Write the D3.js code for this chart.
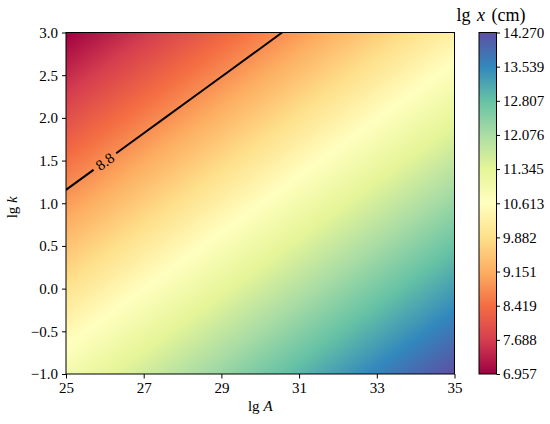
<!DOCTYPE html>
<html>
<head>
<meta charset="utf-8">
<script src="https://cdn.jsdelivr.net/npm/d3@7"></script>
<style>
  body { margin: 0; background: #fff; }
</style>
</head>
<body>
<svg id="chart" width="550" height="424"></svg>
<script>
// grid of lg x, columns = lgA, rows = lgk
var lgA = [25, 26, 27, 28, 29, 30, 31, 32, 33, 34, 35];
var lgk = [3.0, 2.5, 2.0, 1.5, 1.0, 0.5, 0.0, -0.5, -1.0];
var lgx = [
    [6.957, 7.288, 7.620, 7.951, 8.282, 8.613, 8.945, 9.276, 9.607, 9.938, 10.270],
    [7.457, 7.788, 8.120, 8.451, 8.782, 9.113, 9.445, 9.776, 10.107, 10.438, 10.770],
    [7.957, 8.288, 8.620, 8.951, 9.282, 9.613, 9.945, 10.276, 10.607, 10.938, 11.270],
    [8.457, 8.788, 9.120, 9.451, 9.782, 10.113, 10.445, 10.776, 11.107, 11.438, 11.770],
    [8.957, 9.288, 9.620, 9.951, 10.282, 10.613, 10.945, 11.276, 11.607, 11.938, 12.270],
    [9.457, 9.788, 10.120, 10.451, 10.782, 11.113, 11.445, 11.776, 12.107, 12.438, 12.770],
    [9.957, 10.288, 10.620, 10.951, 11.282, 11.613, 11.945, 12.276, 12.607, 12.938, 13.270],
    [10.457, 10.788, 11.120, 11.451, 11.782, 12.113, 12.445, 12.776, 13.107, 13.438, 13.770],
    [10.957, 11.288, 11.620, 11.951, 12.282, 12.613, 12.945, 13.276, 13.607, 13.938, 14.270]
];
var contourLevel = 8.8;
var contourLabelAt = [26.0, 1.49]; // where the inline label sits

var xTicks = [25, 27, 29, 31, 33, 35];
var yTicks = [-1.0, -0.5, 0.0, 0.5, 1.0, 1.5, 2.0, 2.5, 3.0];
var cbTicks = [6.957, 7.688, 8.419, 9.151, 9.882, 10.613, 11.345, 12.076, 12.807, 13.539, 14.270];
var vmin = 6.957, vmax = 14.270;

var FONT = "'Liberation Serif', 'DejaVu Serif', serif";
var svg = d3.select("#chart");

var x = d3.scaleLinear().domain([25, 35]).range([66, 454.5]);
var y = d3.scaleLinear().domain([-1, 3]).range([374, 32.5]);

// Spectral, linear between the 11 brewer colours like matplotlib
var spectral = d3.schemeSpectral[11];
var color = d3.scaleLinear()
    .domain(d3.range(11).map(function(i) { return vmin + (vmax - vmin) * i / 10; }))
    .range(spectral)
    .interpolate(d3.interpolateRgb)
    .clamp(true);

// bilinear lookup into the read grid
function valueAt(a, k) {
    var fi = (a - lgA[0]) / (lgA[1] - lgA[0]);
    var fj = (lgk[0] - k) / (lgk[0] - lgk[1]);
    fi = Math.max(0, Math.min(lgA.length - 1.0001, fi));
    fj = Math.max(0, Math.min(lgk.length - 1.0001, fj));
    var i = Math.floor(fi), j = Math.floor(fj);
    var tx = fi - i, ty = fj - j;
    var top = lgx[j][i] * (1 - tx) + lgx[j][i + 1] * tx;
    var bot = lgx[j + 1][i] * (1 - tx) + lgx[j + 1][i + 1] * tx;
    return top * (1 - ty) + bot * ty;
}

// heatmap drawn into a canvas, then put in as an image
var pw = Math.round(x.range()[1] - x.range()[0]),
    ph = Math.round(y.range()[0] - y.range()[1]);
var canvas = document.createElement("canvas");
canvas.width = pw;
canvas.height = ph;
var ctx = canvas.getContext("2d");
var img = ctx.createImageData(pw, ph);
for (var py = 0; py < ph; py++) {
    for (var px = 0; px < pw; px++) {
        var a = x.invert(x.range()[0] + (px + 0.5) * (x.range()[1] - x.range()[0]) / pw);
        var k = y.invert(y.range()[1] + (py + 0.5) * (y.range()[0] - y.range()[1]) / ph);
        var c = d3.rgb(color(valueAt(a, k)));
        var o = (py * pw + px) * 4;
        img.data[o] = c.r; img.data[o + 1] = c.g; img.data[o + 2] = c.b; img.data[o + 3] = 255;
    }
}
ctx.putImageData(img, 0, 0);
svg.append("image")
    .attr("x", x.range()[0]).attr("y", y.range()[1])
    .attr("width", x.range()[1] - x.range()[0])
    .attr("height", y.range()[0] - y.range()[1])
    .attr("preserveAspectRatio", "none")
    .attr("href", canvas.toDataURL());

// contour: crossings of the level along grid edges
var pts = [];
for (var j = 0; j < lgk.length; j++) {
    for (var i = 0; i < lgA.length; i++) {
        var v0 = lgx[j][i];
        if (i + 1 < lgA.length) {
            var v1 = lgx[j][i + 1];
            if ((v0 - contourLevel) * (v1 - contourLevel) <= 0 && v0 != v1) {
                var t = (contourLevel - v0) / (v1 - v0);
                pts.push([lgA[i] + t * (lgA[i + 1] - lgA[i]), lgk[j]]);
            }
        }
        if (j + 1 < lgk.length) {
            var v2 = lgx[j + 1][i];
            if ((v0 - contourLevel) * (v2 - contourLevel) <= 0 && v0 != v2) {
                var t2 = (contourLevel - v0) / (v2 - v0);
                pts.push([lgA[i], lgk[j] + t2 * (lgk[j + 1] - lgk[j])]);
            }
        }
    }
}
pts.sort(function(p, q) { return p[0] - q[0]; });

var lx = x(contourLabelAt[0]), ly = y(contourLabelAt[1]);
var p0 = pts[0], p1 = pts[pts.length - 1];
var ang = Math.atan2(y(p1[1]) - y(p0[1]), x(p1[0]) - x(p0[0])) * 180 / Math.PI;

var defs = svg.append("defs");
var mask = defs.append("mask").attr("id", "cmask");
mask.append("rect").attr("x", 0).attr("y", 0).attr("width", 550).attr("height", 424).attr("fill", "#fff");
mask.append("rect")
    .attr("x", -14).attr("y", -9).attr("width", 28).attr("height", 18)
    .attr("fill", "#000")
    .attr("transform", "translate(" + lx + "," + ly + ") rotate(" + ang + ")");
defs.append("clipPath").attr("id", "plotclip").append("rect")
    .attr("x", x.range()[0]).attr("y", y.range()[1])
    .attr("width", x.range()[1] - x.range()[0])
    .attr("height", y.range()[0] - y.range()[1]);

svg.append("g").attr("clip-path", "url(#plotclip)")
  .append("path")
    .attr("d", d3.line().x(function(d) { return x(d[0]); }).y(function(d) { return y(d[1]); })(pts))
    .attr("fill", "none")
    .attr("stroke", "#000")
    .attr("stroke-width", 2)
    .attr("mask", "url(#cmask)");

svg.append("text")
    .attr("transform", "translate(" + lx + "," + ly + ") rotate(" + ang + ")")
    .attr("text-anchor", "middle")
    .attr("dy", "0.35em")
    .style("font-family", FONT)
    .style("font-size", "15px")
    .text(contourLevel.toFixed(1));

// frame
svg.append("rect")
    .attr("x", x.range()[0]).attr("y", y.range()[1])
    .attr("width", x.range()[1] - x.range()[0])
    .attr("height", y.range()[0] - y.range()[1])
    .attr("fill", "none").attr("stroke", "#000").attr("stroke-width", 1);

function styleAxis(g) {
    g.attr("font-family", null).attr("font-size", null);
    g.select(".domain").remove();
    g.selectAll(".tick line").attr("stroke", "#000").attr("stroke-width", 1);
    g.selectAll(".tick text")
        .attr("fill", "#000")
        .style("font-family", FONT)
        .style("font-size", "15px");
}

svg.append("g")
    .attr("transform", "translate(0," + y.range()[0] + ")")
    .call(d3.axisBottom(x).tickValues(xTicks).tickSize(4.5).tickPadding(4)
        .tickFormat(d3.format("d")))
    .call(styleAxis);

svg.append("g")
    .attr("transform", "translate(" + x.range()[0] + ",0)")
    .call(d3.axisLeft(y).tickValues(yTicks).tickSize(4).tickPadding(4)
        .tickFormat(function(d) { return d3.format(".1f")(d).replace("-", "\u2212"); }))
    .call(styleAxis);

// colorbar
var cbX0 = 479, cbX1 = 496.5;
var cy = d3.scaleLinear().domain([vmin, vmax]).range([374, 32.5]);
var grad = defs.append("linearGradient").attr("id", "cbgrad")
    .attr("x1", 0).attr("y1", 1).attr("x2", 0).attr("y2", 0);
color.domain().forEach(function(d, i) {
    grad.append("stop").attr("offset", i / 10).attr("stop-color", spectral[i]);
});
svg.append("rect")
    .attr("x", cbX0).attr("y", cy.range()[1])
    .attr("width", cbX1 - cbX0).attr("height", cy.range()[0] - cy.range()[1])
    .attr("fill", "url(#cbgrad)")
    .attr("stroke", "#000").attr("stroke-width", 1);

svg.append("g")
    .attr("transform", "translate(" + cbX1 + ",0)")
    .call(d3.axisRight(cy).tickValues(cbTicks).tickSize(3.5).tickPadding(3)
        .tickFormat(d3.format(".3f")))
    .call(styleAxis);

// labels
function label(sel, size) {
    return sel.style("font-family", FONT).style("font-size", size).attr("fill", "#000");
}
var xl = label(svg.append("text")
    .attr("x", (x.range()[0] + x.range()[1]) / 2).attr("y", 411)
    .attr("text-anchor", "middle"), "15px");
xl.append("tspan").text("lg ");
xl.append("tspan").style("font-style", "italic").text("A");

var yl = label(svg.append("text")
    .attr("transform", "translate(17," + ((y.range()[0] + y.range()[1]) / 2 + 4) + ") rotate(-90)")
    .attr("text-anchor", "middle"), "15px");
yl.append("tspan").text("lg ");
yl.append("tspan").style("font-style", "italic").text("k");

var cl = label(svg.append("text")
    .attr("x", 491).attr("y", 21)
    .attr("text-anchor", "middle")
    .style("word-spacing", "2px"), "18px");
cl.append("tspan").text("lg ");
cl.append("tspan").style("font-style", "italic").text("x");
cl.append("tspan").text(" (cm)");
</script>
</body>
</html>
